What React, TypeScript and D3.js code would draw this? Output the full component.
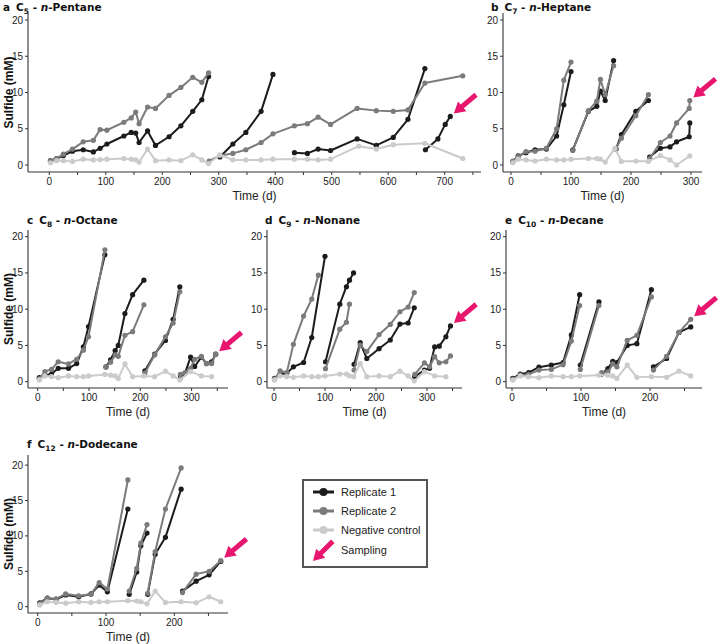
import React from 'react';
import * as d3 from 'd3';

type Pt = [number, number];

// ---------- DATA (time in days, sulfide in mM) ----------
const pentaneRep1: Pt[][] = [
  [[2,0.6],[13,0.9],[25,1.3],[41,1.9],[60,2.1],[78,1.8],[90,2.3],[102,2.9],[132,4.0],[145,4.5],[153,4.4],[159,3.1],[174,4.7],[188,2.7],[212,3.9],[233,5.4],[254,7.4],[270,9.0],[282,12.2]],
  [[302,1.1],[325,2.9],[348,4.5],[375,7.4],[396,12.5]],
  [[434,1.7],[457,1.6],[476,2.2],[498,2.0],[545,3.6],[579,2.7],[609,3.8],[635,6.3],[665,13.3]],
  [[666,2.1],[688,3.6],[701,5.6],[710,6.7]],
];
const pentaneRep2: Pt[][] = [
  [[2,0.6],[13,0.9],[25,1.5],[41,2.2],[60,3.2],[78,3.4],[90,4.9],[102,4.8],[132,5.9],[145,6.5],[153,7.3],[159,5.7],[174,8.0],[188,7.8],[212,9.6],[233,10.7],[254,12.1],[270,11.4],[282,12.7]],
  [[283,0.55],[302,1.3],[325,1.6],[348,2.1],[375,3.1],[396,4.3],[434,5.4],[457,5.7],[476,6.6],[498,5.6],[545,7.8],[579,7.5],[609,7.4],[635,7.6],[665,11.3],[732,12.3]],
];
const pentaneNeg: Pt[] = [[2,0.3],[13,0.6],[25,0.6],[41,0.5],[60,0.8],[78,0.7],[90,0.75],[102,0.8],[132,0.9],[145,0.8],[153,0.7],[159,0.4],[174,2.2],[188,0.6],[212,0.7],[233,0.6],[254,1.4],[270,0.7],[282,0.2],[302,1.4],[325,0.7],[348,0.7],[375,0.7],[396,0.8],[434,0.8],[457,0.8],[476,0.7],[498,0.8],[548,2.6],[579,2.2],[609,2.8],[665,3.0],[732,0.9]];

const heptaneRep1: Pt[][] = [
  [[3,0.46],[12,1.25],[25,1.7],[40,2.1],[59,2.2],[76,4.0],[88,8.3],[100,12.9]],
  [[103,2.1],[129,7.4],[143,8.1],[149,10.2],[157,8.9],[171,14.4]],
  [[175,2.2],[184,4.2],[208,7.4],[229,8.9]],
  [[231,1.1],[249,2.3],[265,2.5],[276,3.2],[297,3.9],[298,5.8]],
];
const heptaneRep2: Pt[][] = [
  [[3,0.55],[12,1.15],[25,1.85],[40,1.9],[59,2.3],[76,5.0],[88,11.7],[100,14.2]],
  [[103,2.0],[129,7.5],[143,8.8],[149,11.8],[157,9.7],[171,13.7]],
  [[175,2.3],[184,3.7],[208,6.8],[229,9.7]],
  [[231,0.9],[249,3.1],[265,4.0],[276,5.8],[297,7.8],[298,8.9]],
];
const heptaneNeg: Pt[] = [[3,0.3],[12,0.8],[25,0.7],[40,0.55],[59,0.8],[76,0.7],[88,0.7],[100,0.8],[129,0.9],[143,0.9],[149,0.8],[157,0.4],[173,2.3],[184,0.5],[208,0.55],[229,0.5],[249,1.3],[265,0.7],[276,0.0],[298,1.25]];

const octaneRep1: Pt[][] = [
  [[3,0.55],[14,0.9],[27,1.05],[40,1.85],[60,1.85],[76,2.5],[89,4.8],[99,7.6],[131,17.5]],
  [[133,2.05],[142,3.0],[151,4.3],[157,5.0],[170,9.4],[185,12.0],[207,14.0]],
  [[209,1.5],[228,3.8],[249,5.7],[264,8.6],[277,13.1]],
  [[278,0.55],[287,1.15],[298,3.4],[306,2.1],[319,3.4],[329,2.5],[339,2.75],[347,3.8]],
];
const octaneRep2: Pt[][] = [
  [[3,0.4],[14,1.4],[27,1.7],[40,2.75],[60,2.45],[76,3.1],[89,4.35],[99,6.2],[131,18.2]],
  [[133,2.0],[142,2.7],[151,3.7],[157,3.5],[170,6.4],[185,6.9],[207,10.6]],
  [[209,1.2],[228,3.7],[249,6.2],[264,8.1],[277,12.4]],
  [[278,1.0],[287,1.25],[298,1.85],[306,3.1],[319,3.5],[329,2.5],[339,2.5],[347,3.8]],
];
const octaneNeg: Pt[] = [[3,0.25],[14,0.8],[27,0.7],[40,0.55],[60,0.8],[76,0.7],[89,0.7],[99,0.8],[131,1.0],[142,0.9],[151,0.8],[157,0.45],[170,2.45],[185,0.7],[207,0.8],[228,0.7],[249,1.45],[264,0.8],[277,0.25],[298,1.4],[319,0.8],[339,0.7]];

const nonaneRep1: Pt[][] = [
  [[1,0.45],[12,1.05],[25,1.15],[38,2.05],[58,2.65],[74,6.1],[100,17.3]],
  [[101,2.75],[129,10.7],[142,13.1],[148,14.0],[156,15.0]],
  [[157,2.4],[169,5.4],[182,3.2],[206,4.55],[228,5.75],[247,7.95],[263,8.1],[275,10.2]],
  [[276,0.7],[295,1.6],[305,1.85],[315,4.8],[324,4.9],[337,6.2],[346,7.7]],
];
const nonaneRep2: Pt[][] = [
  [[1,0.35],[12,1.5],[25,1.25],[38,5.15],[58,9.05],[74,11.4],[87,14.7]],
  [[101,1.8],[129,7.25],[142,8.2],[148,10.7]],
  [[157,1.6],[169,5.05],[182,4.15],[206,6.5],[228,7.9],[247,9.65],[263,10.3],[275,12.3]],
  [[276,1.0],[295,2.6],[305,2.05],[315,3.45],[324,2.6],[337,2.75],[346,3.55]],
];
const nonaneNeg: Pt[] = [[1,0.25],[12,0.8],[25,0.7],[38,0.6],[58,0.8],[74,0.7],[87,0.7],[100,0.8],[129,1.05],[142,1.05],[148,0.8],[156,0.7],[169,2.5],[182,0.7],[206,0.8],[228,0.7],[247,1.45],[263,0.8],[275,0.1],[295,1.4],[315,0.8],[337,0.7]];

const decaneRep1: Pt[][] = [
  [[1,0.45],[12,1.05],[24,1.25],[39,2.0],[57,2.3],[74,2.65],[86,6.45],[98,12.0]],
  [[99,2.3],[126,11.0]],
  [[130,1.05],[139,1.8],[146,2.8],[152,2.65],[167,5.0],[181,5.25],[202,12.7]],
  [[205,2.05],[224,3.2],[242,6.8],[259,7.55]],
];
const decaneRep2: Pt[][] = [
  [[1,0.35],[12,0.9],[24,1.0],[39,1.6],[57,1.7],[74,2.35],[86,5.6],[98,10.5]],
  [[99,1.7],[126,10.5]],
  [[130,1.25],[139,1.35],[146,2.45],[152,2.05],[167,5.7],[181,6.4],[202,11.7]],
  [[205,1.6],[224,3.5],[242,6.8],[259,8.6]],
];
const decaneNeg: Pt[] = [[1,0.23],[12,0.8],[24,0.7],[39,0.55],[57,0.8],[74,0.7],[86,0.7],[98,0.8],[126,0.9],[139,0.9],[146,0.8],[152,0.45],[167,2.3],[181,0.6],[202,0.7],[224,0.6],[242,1.45],[259,0.8]];

const dodecaneRep1: Pt[][] = [
  [[3,0.55],[14,1.2],[27,1.05],[41,1.65],[60,1.4],[78,1.8],[90,3.05],[102,2.1],[132,13.8]],
  [[134,1.75],[145,4.9],[151,8.6],[160,10.4]],
  [[161,1.75],[172,7.4],[187,9.8],[210,16.6]],
  [[212,2.2],[232,3.6],[251,4.5],[268,6.4]],
];
const dodecaneRep2: Pt[][] = [
  [[3,0.4],[14,1.2],[27,1.1],[41,1.8],[60,1.55],[78,1.75],[90,3.4],[102,2.5],[132,17.9]],
  [[134,2.2],[145,5.4],[151,9.0],[160,11.6]],
  [[161,1.9],[172,7.8],[187,13.8],[210,19.6]],
  [[212,2.0],[232,4.6],[251,5.0],[268,6.5]],
];
const dodecaneNeg: Pt[] = [[3,0.25],[14,0.7],[27,0.6],[41,0.5],[60,0.7],[78,0.6],[90,0.7],[102,0.7],[132,0.85],[145,0.8],[151,0.7],[160,0.4],[172,2.2],[187,0.6],[210,0.7],[232,0.55],[251,1.4],[268,0.7]];

const yTickValues = [0, 5, 10, 15, 20];
const legendLabels = ['Replicate 1', 'Replicate 2', 'Negative control', 'Sampling'];

// ---------- STYLE / LAYOUT ----------
const C_REP1 = '#1c1c1c';
const C_REP2 = '#7b7b7b';
const C_NEG = '#cbcbcb';
const C_PINK = '#e8166f';
const AXIS = '#333';
const TXT = '#222';

interface Panel {
  letter: string; carbon: string; name: string;
  rep1: Pt[][]; rep2: Pt[][]; neg: Pt[];
  sampled: 'rep1' | 'rep2';
  titleX: number; titleY: number;
  x0: number; x1: number; zeroX: number; pxPerDay: number;
  yTop: number; yBottom: number; zeroY: number; pxPerUnit: number;
  xTicks: number[]; yTitle: boolean;
}

const panels: Panel[] = [
  { letter: 'a', carbon: '5', name: 'Pentane', rep1: pentaneRep1, rep2: pentaneRep2, neg: pentaneNeg, sampled: 'rep1',
    titleX: 3, titleY: 11, x0: 28, x1: 481, zeroX: 49.3, pxPerDay: 0.5648,
    yTop: 13, yBottom: 172, zeroY: 165, pxPerUnit: 7.25, xTicks: [0,100,200,300,400,500,600,700], yTitle: true },
  { letter: 'b', carbon: '7', name: 'Heptane', rep1: heptaneRep1, rep2: heptaneRep2, neg: heptaneNeg, sampled: 'rep2',
    titleX: 491, titleY: 11, x0: 503, x1: 702, zeroX: 511, pxPerDay: 0.6,
    yTop: 13, yBottom: 172, zeroY: 165, pxPerUnit: 7.25, xTicks: [0,100,200,300], yTitle: false },
  { letter: 'c', carbon: '8', name: 'Octane', rep1: octaneRep1, rep2: octaneRep2, neg: octaneNeg, sampled: 'rep2',
    titleX: 27, titleY: 224, x0: 28, x1: 228, zeroX: 37.7, pxPerDay: 0.513,
    yTop: 230, yBottom: 388, zeroY: 381.7, pxPerUnit: 7.25, xTicks: [0,100,200,300], yTitle: true },
  { letter: 'd', carbon: '9', name: 'Nonane', rep1: nonaneRep1, rep2: nonaneRep2, neg: nonaneNeg, sampled: 'rep1',
    titleX: 265, titleY: 224, x0: 267, x1: 462, zeroX: 274, pxPerDay: 0.51,
    yTop: 230, yBottom: 388, zeroY: 381.7, pxPerUnit: 7.25, xTicks: [0,100,200,300], yTitle: false },
  { letter: 'e', carbon: '10', name: 'Decane', rep1: decaneRep1, rep2: decaneRep2, neg: decaneNeg, sampled: 'rep2',
    titleX: 505, titleY: 224, x0: 506, x1: 702, zeroX: 512, pxPerDay: 0.69,
    yTop: 230, yBottom: 388, zeroY: 381.7, pxPerUnit: 7.25, xTicks: [0,100,200], yTitle: false },
  { letter: 'f', carbon: '12', name: 'Dodecane', rep1: dodecaneRep1, rep2: dodecaneRep2, neg: dodecaneNeg, sampled: 'rep2',
    titleX: 27, titleY: 448, x0: 28, x1: 228, zeroX: 37.7, pxPerDay: 0.683,
    yTop: 455, yBottom: 613, zeroY: 606.7, pxPerUnit: 7.08, xTicks: [0,100,200], yTitle: true },
];

function arrowPath(tipX: number, tipY: number, len: number, angleDeg: number) {
  const a = (angleDeg * Math.PI) / 180;
  const ux = -Math.cos(a), uy = Math.sin(a); // direction tail -> tip (down-left)
  const nx = -uy, ny = ux;
  const tailX = tipX - len * ux, tailY = tipY - len * uy;
  const h = 11, w = 6.5, s = 2.5;
  const bx = tipX - h * ux, by = tipY - h * uy;
  const p = d3.path();
  p.moveTo(tailX + s * nx, tailY + s * ny);
  p.lineTo(bx + s * nx, by + s * ny);
  p.lineTo(bx + w * nx, by + w * ny);
  p.lineTo(tipX, tipY);
  p.lineTo(bx - w * nx, by - w * ny);
  p.lineTo(bx - s * nx, by - s * ny);
  p.lineTo(tailX - s * nx, tailY - s * ny);
  p.closePath();
  return p.toString();
}

const PanelView: React.FC<{ p: Panel }> = ({ p }) => {
  const x = d3.scaleLinear()
    .domain([(p.x0 - p.zeroX) / p.pxPerDay, (p.x1 - p.zeroX) / p.pxPerDay])
    .range([p.x0, p.x1]);
  const y = d3.scaleLinear().domain([0, 20]).range([p.zeroY, p.zeroY - 20 * p.pxPerUnit]);
  const line = d3.line<Pt>().x(d => x(d[0])).y(d => y(d[1]));
  const [dMin, dMax] = x.domain();
  const minor = d3.range(50, dMax, 100).filter(v => v > dMin);

  const series: { segs: Pt[][]; color: string }[] = [
    { segs: p.rep1, color: C_REP1 },
    { segs: p.rep2, color: C_REP2 },
    { segs: [p.neg], color: C_NEG },
  ];
  const sampSegs = p.sampled === 'rep1' ? p.rep1 : p.rep2;
  const lastSeg = sampSegs[sampSegs.length - 1];
  const last = lastSeg[lastSeg.length - 1];
  const tipX = x(last[0]) + 3.5, tipY = y(last[1]) - 3;

  return (
    <g>
      <text x={p.titleX} y={p.titleY} fontFamily="DejaVu Sans" fontWeight="bold" fontSize={10.5} fill="#111">
        <tspan>{p.letter}</tspan>
        <tspan dx={6}>C</tspan>
        <tspan fontSize={7.5} dy={2.5}>{p.carbon}</tspan>
        <tspan dy={-2.5}> - </tspan>
        <tspan fontStyle="italic">n</tspan>
        <tspan>-{p.name}</tspan>
      </text>
      {/* axes */}
      <line x1={p.x0} x2={p.x0} y1={p.yTop} y2={p.yBottom} stroke={AXIS} strokeWidth={1.1} />
      <line x1={p.x0} x2={p.x1} y1={p.yBottom} y2={p.yBottom} stroke={AXIS} strokeWidth={1.1} />
      {yTickValues.map(v => (
        <g key={'y' + v}>
          <line x1={p.x0 - 3} x2={p.x0} y1={y(v)} y2={y(v)} stroke={AXIS} strokeWidth={1} />
          <text x={p.x0 - 5} y={y(v) + 3.5} textAnchor="end" fontFamily="Liberation Sans, Arial" fontSize={10} fill={TXT}>{v}</text>
        </g>
      ))}
      {p.xTicks.map(v => (
        <g key={'x' + v}>
          <line x1={x(v)} x2={x(v)} y1={p.yBottom} y2={p.yBottom + 3} stroke={AXIS} strokeWidth={1} />
          <text x={x(v)} y={p.yBottom + 13} textAnchor="middle" fontFamily="Liberation Sans, Arial" fontSize={10} fill={TXT}>{v}</text>
        </g>
      ))}
      {minor.map(v => (
        <line key={'m' + v} x1={x(v)} x2={x(v)} y1={p.yBottom} y2={p.yBottom + 3} stroke={AXIS} strokeWidth={1} />
      ))}
      <text x={(p.x0 + p.x1) / 2} y={p.yBottom + 28} textAnchor="middle" fontFamily="Liberation Sans, Arial" fontSize={12} fill={TXT}>Time (d)</text>
      {p.yTitle && (
        <text transform={`translate(13,${(p.yTop + p.yBottom) / 2}) rotate(-90)`} textAnchor="middle"
          fontFamily="Liberation Sans, Arial" fontWeight="bold" fontSize={12} fill="#111">Sulfide (mM)</text>
      )}
      {/* data */}
      {series.map((s, si) => (
        <g key={si}>
          {s.segs.map((seg, i) => (
            <path key={i} d={line(seg) || ''} fill="none" stroke={s.color} strokeWidth={2} strokeLinejoin="round" />
          ))}
          {s.segs.map((seg, i) => seg.map((d, j) => (
            <circle key={i + '-' + j} cx={x(d[0])} cy={y(d[1])} r={2.6} fill={s.color} />
          )))}
        </g>
      ))}
      <path d={arrowPath(tipX, tipY, 29, 40)} fill={C_PINK} />
    </g>
  );
};

const Legend: React.FC = () => {
  const colors = [C_REP1, C_REP2, C_NEG];
  const rowY = [492, 511, 530, 550];
  return (
    <g>
      <rect x={303} y={480} width={124} height={87} fill="#fff" stroke="#555" strokeWidth={2} />
      {colors.map((c, i) => (
        <g key={i}>
          <line x1={313} x2={334} y1={rowY[i]} y2={rowY[i]} stroke={c} strokeWidth={3} />
          <circle cx={323.5} cy={rowY[i]} r={4} fill={c} />
        </g>
      ))}
      <path d={arrowPath(313, 561, 28, 45)} fill={C_PINK} />
      {legendLabels.map((t, i) => (
        <text key={t} x={341} y={rowY[i] + 4} fontFamily="Liberation Sans, Arial" fontSize={11} fill={TXT}>{t}</text>
      ))}
    </g>
  );
};

export default function App() {
  return (
    <svg width={720} height={644} style={{ display: 'block', position: 'absolute', left: 0, top: 0, background: '#fff' }}>
      <rect x={0} y={0} width={720} height={644} fill="#fff" />
      {panels.map(p => <PanelView key={p.letter} p={p} />)}
      <Legend />
    </svg>
  );
}
